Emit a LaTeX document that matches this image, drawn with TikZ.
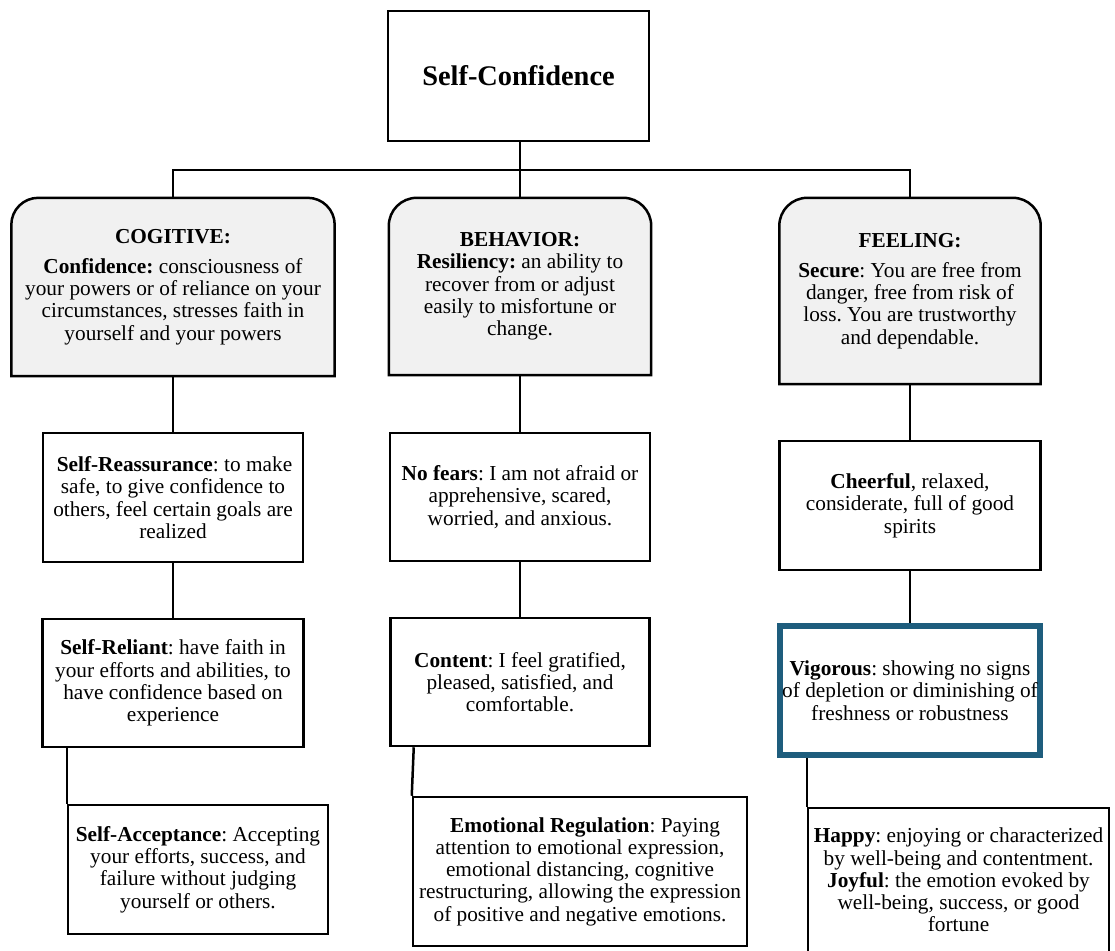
\documentclass[tikz,border=0pt]{standalone}
\usepackage{fontspec}
\setmainfont{Liberation Serif}
\frenchspacing
\pgfdeclarelayer{background}
\pgfsetlayers{background,main}
\definecolor{panelgray}{RGB}{241,241,241}
\definecolor{vigblue}{RGB}{30,93,125}
\begin{document}
\begin{tikzpicture}[x=1pt,y=1pt,
  every node/.style={inner sep=0pt, align=center,
    font=\fontsize{21.3}{22.3}\selectfont},
  plainbox/.style={draw=black, line width=2.5pt, fill=white, rectangle},
  bluebox/.style={draw=vigblue, line width=6pt, fill=white, rectangle},
  panelbox/.style={draw=none, rectangle},
  panelframe/.style={draw=black, line width=2.5pt, fill=panelgray},
  link/.style={draw=black, line width=2.5pt},
  titlefont/.style={font=\fontsize{28.4}{30}\selectfont\bfseries}
]
\useasboundingbox (0,0) rectangle (1115,-950);
\clip (0,0) rectangle (1115,-950);

% root
\node[plainbox, titlefont, minimum width=261, minimum height=130] (top) at (518.5,-76) {Self-Confidence};

% three dimensions (top corners rounded, drawn on the background layer)
\node[panelbox, minimum width=323, minimum height=178] (cog) at (173,-287)
  {\textbf{COGITIVE:}\\[7.7pt]
   \textbf{Confidence:} consciousness of\\
   your powers or of reliance on your\\
   circumstances, stresses faith in\\
   yourself and your powers};
\node[panelbox, minimum width=262, minimum height=177] (beh) at (520,-286.5)
  {\textbf{BEHAVIOR:}\\
   \textbf{Resiliency:} an ability to\\
   recover from or adjust\\
   easily to misfortune or\\
   change.};
\node[panelbox, minimum width=261, minimum height=186] (feel) at (910,-291)
  {\textbf{FEELING:}\\[7.7pt]
   \textbf{Secure}: You are free from\\
   danger, free from risk of\\
   loss. You are trustworthy\\
   and dependable.};

% second level
\node[plainbox, minimum width=260, minimum height=129] (reas) at (173,-497.5)
  {\hspace*{3pt}\textbf{Self-Reassurance}: to make\\
   safe, to give confidence to\\
   others, feel certain goals are\\
   realized};
\node[plainbox, minimum width=260, minimum height=128] (nof) at (520,-497)
  {\textbf{No fears}: I am not afraid or\\
   apprehensive, scared,\\
   worried, and anxious.};
\node[plainbox, minimum width=261, minimum height=129] (cheer) at (910,-505.5)
  {\textbf{Cheerful}, relaxed,\\
   considerate, full of good\\
   spirits};

% third level
\node[plainbox, minimum width=261, minimum height=128] (rel) at (173,-683)
  {\textbf{Self-Reliant}: have faith in\\
   your efforts and abilities, to\\
   have confidence based on\\
   experience};
\node[plainbox, minimum width=259, minimum height=128] (cont) at (520,-682)
  {\textbf{Content}: I feel gratified,\\
   pleased, satisfied, and\\
   comfortable.};
\node[bluebox, minimum width=260, minimum height=129] (vig) at (910,-690.5)
  {\textbf{Vigorous}: showing no signs\\
   of depletion or diminishing of\\
   freshness or robustness};

% fourth level
\node[plainbox, minimum width=260, minimum height=129] (acc) at (198,-869.5)
  {\textbf{Self-Acceptance}: Accepting\\
   your efforts, success, and\\
   failure without judging\\
   yourself or others.};
\node[plainbox, minimum width=334, minimum height=149] (emo) at (580,-871.5)
  {\hspace*{10pt}\textbf{Emotional Regulation}: Paying\\
   attention to emotional expression,\\
   emotional distancing, cognitive\\
   restructuring, allowing the expression\\
   of positive and negative emotions.};
\node[plainbox, minimum width=301, minimum height=144] (hap) at (958.5,-880)
  {\textbf{Happy}: enjoying or characterized\\
   by well-being and contentment.\\
   \textbf{Joyful}: the emotion evoked by\\
   well-being, success, or good\\
   fortune};

\begin{pgfonlayer}{background}
  \fill[white] (0,0) rectangle (1115,-950);
  % connectors
  \draw[link] (beh.north |- top.south) -- (beh.north);
  \draw[link] (cog.north) -- ++(0,28) -| (feel.north);
  \draw[link] (cog.south) -- (reas.north);
  \draw[link] (reas.south) -- (rel.north);
  \draw[link] (acc.north west) -- (acc.north west |- rel.south);
  \draw[link] (beh.south) -- (nof.north);
  \draw[link] (nof.south) -- (cont.north);
  \draw[link] ([xshift=2pt]emo.north west |- cont.south) -- (emo.north west);
  \draw[link] (feel.south) -- (cheer.north);
  \draw[link] (cheer.south) -- (vig.north);
  \draw[link] (hap.north west) -- (hap.north west |- vig.south);
  % panel outlines with rounded upper corners
  \foreach \p/\r in {cog/27, beh/28, feel/28}{
    \draw[panelframe] (\p.south west) -- ([yshift=-\r pt]\p.north west)
      arc[start angle=180, end angle=90, radius=\r pt]
      -- ([xshift=-\r pt]\p.north east)
      arc[start angle=90, end angle=0, radius=\r pt]
      -- (\p.south east) -- cycle;
  }
\end{pgfonlayer}
\end{tikzpicture}
\end{document}
